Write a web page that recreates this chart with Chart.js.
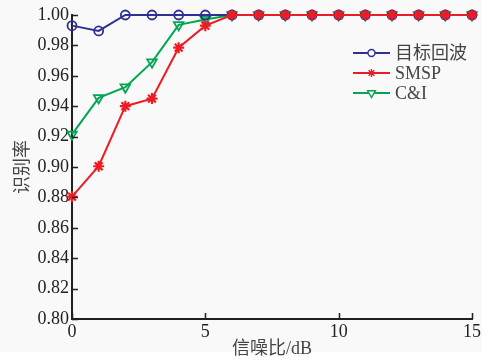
<!DOCTYPE html>
<html>
<head>
<meta charset="utf-8">
<script src="https://cdn.jsdelivr.net/npm/chart.js@4"></script>
<style>
  html, body { margin: 0; padding: 0; background: #ffffff; }
  #wrap { position: relative; width: 494px; height: 360px; }
  #paper { position: absolute; left: 0; top: 0; width: 482px; height: 352px; background: #f9f9f9; }
  #wrap canvas { position: absolute; left: 0; top: 0; }
</style>
</head>
<body>
<div id="wrap">
  <div id="paper"></div>
  <canvas id="chart" width="494" height="360"></canvas>
</div>
<script>
// SNR (dB) on the x axis
const snr = [0, 1, 2, 3, 4, 5, 6, 7, 8, 9, 10, 11, 12, 13, 14, 15];

// recognition rate per method
const echoRate = [0.993, 0.9895, 1, 1, 1, 1, 1, 1, 1, 1, 1, 1, 1, 1, 1, 1];
const smspRate = [0.8805, 0.9005, 0.940, 0.945, 0.9785, 0.993, 1, 1, 1, 1, 1, 1, 1, 1, 1, 1];
const ciRate   = [0.9215, 0.9455, 0.9525, 0.969, 0.9935, 0.997, 1, 1, 1, 1, 1, 1, 1, 1, 1, 1];

const seriesNames = ['目标回波', 'SMSP', 'C&I'];

const xTicks = [0, 5, 10, 15];
const yMin = 0.80, yMax = 1.00, yStep = 0.02;

const SERIF = '"Liberation Serif", "Times New Roman", "Noto Sans CJK SC", serif';
const INK = '#231f20';

const toPoints = vals => snr.map((x, i) => ({ x: x, y: vals[i] }));

// inward tick marks on the left and bottom axes
const inwardTicks = {
    id: 'inwardTicks',
    afterDatasetsDraw(chart) {
        const { ctx, chartArea } = chart;
        const xs = chart.scales.x, ys = chart.scales.y;
        ctx.save();
        ctx.strokeStyle = INK;
        ctx.lineWidth = 1.5;
        ctx.beginPath();
        ys.ticks.forEach(t => {
            const py = Math.round(ys.getPixelForValue(t.value)) + 0.5;
            ctx.moveTo(chartArea.left, py);
            ctx.lineTo(chartArea.left + 6, py);
        });
        xs.ticks.forEach(t => {
            const px = Math.round(xs.getPixelForValue(t.value)) + 0.5;
            ctx.moveTo(px, chartArea.bottom);
            ctx.lineTo(px, chartArea.bottom - 6);
        });
        ctx.stroke();
        ctx.restore();
    }
};

// matlab-style legend: line with the marker in the middle, text to the right
const lineLegend = {
    id: 'lineLegend',
    afterDraw(chart) {
        const { ctx, chartArea } = chart;
        const x0 = chartArea.right - 119;
        const x1 = x0 + 37;
        let y = chartArea.top + 38;
        ctx.save();
        chart.data.datasets.forEach(ds => {
            ctx.strokeStyle = ds.borderColor;
            ctx.lineWidth = 2;
            ctx.beginPath();
            ctx.moveTo(x0, y);
            ctx.lineTo(x1, y);
            ctx.stroke();
            ctx.fillStyle = ds.legendFill || '#f9f9f9';
            ctx.lineWidth = 1.4;
            Chart.helpers.drawPoint(ctx, {
                pointStyle: ds.pointStyle,
                radius: ds.legendRadius,
                rotation: ds.pointRotation || 0,
                borderWidth: 1.4
            }, (x0 + x1) / 2, y);
            ctx.fillStyle = '#444';
            ctx.font = '18px ' + SERIF;
            ctx.textBaseline = 'middle';
            ctx.textAlign = 'left';
            ctx.fillText(ds.label, x1 + 5, y + 1);
            y += 20;
        });
        ctx.restore();
    }
};

function series(label, vals, color, style, extra) {
    return Object.assign({
        label: label,
        data: toPoints(vals),
        borderColor: color,
        backgroundColor: 'rgba(0,0,0,0)',
        pointBorderColor: color,
        pointBackgroundColor: 'rgba(0,0,0,0)',
        borderWidth: 2,
        pointStyle: style,
        pointRadius: 4.5,
        pointBorderWidth: 1.8,
        legendRadius: 3.5,
        tension: 0,
        clip: false
    }, extra || {});
}

new Chart(document.getElementById('chart'), {
    type: 'line',
    data: {
        datasets: [
            series(seriesNames[0], echoRate, '#2e3192', 'circle', { order: 1 }),
            series(seriesNames[1], smspRate, '#ec1c24', 'star', { order: 0, pointRadius: 5.5, pointBorderWidth: 2.2, legendRadius: 4, legendFill: '#ec1c24' }),
            series(seriesNames[2], ciRate, '#00a651', 'triangle', { order: 2, pointRotation: 180, pointRadius: 5.5, legendRadius: 4.5 })
        ]
    },
    options: {
        responsive: false,
        animation: false,
        devicePixelRatio: 1,
        layout: { padding: { top: 15, right: 22, left: 0, bottom: 0 } },
        plugins: {
            legend: { display: false },
            tooltip: { enabled: false }
        },
        scales: {
            x: {
                type: 'linear',
                min: 0,
                max: 15,
                afterBuildTicks: s => { s.ticks = xTicks.map(v => ({ value: v })); },
                afterFit: s => { s.height = 41; },
                grid: { display: true, drawOnChartArea: false, drawTicks: false },
                border: { display: true, color: INK, width: 2 },
                ticks: {
                    padding: 2,
                    color: '#222',
                    font: { family: SERIF, size: 18 },
                    maxRotation: 0
                },
                title: {
                    display: true,
                    text: '信噪比/dB',
                    color: '#444',
                    font: { family: SERIF, size: 18 },
                    padding: { top: 0, bottom: 0 }
                }
            },
            y: {
                min: yMin,
                max: yMax,
                afterFit: s => { s.width = 72; },
                grid: { display: true, drawOnChartArea: false, drawTicks: false },
                border: { display: true, color: INK, width: 2 },
                ticks: {
                    stepSize: yStep,
                    padding: 3,
                    color: '#222',
                    font: { family: SERIF, size: 18 },
                    callback: v => Number(v).toFixed(2)
                },
                title: {
                    display: true,
                    text: '识别率',
                    color: '#444',
                    font: { family: SERIF, size: 18 },
                    padding: { top: 12, bottom: 0 }
                }
            }
        }
    },
    plugins: [inwardTicks, lineLegend]
});
</script>
</body>
</html>
